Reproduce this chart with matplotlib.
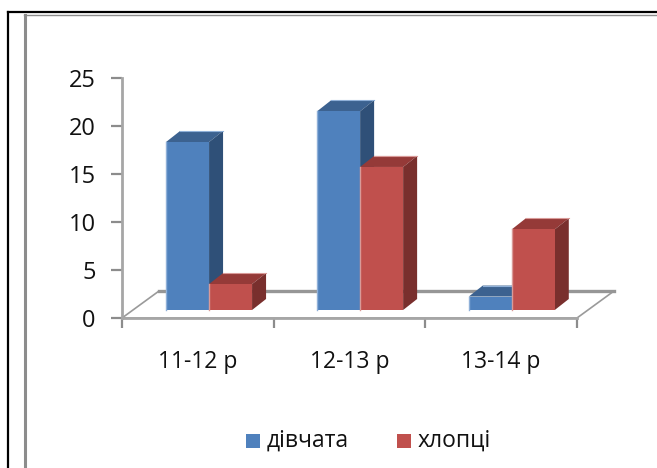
import matplotlib
matplotlib.use("Agg")
import matplotlib.pyplot as plt
from matplotlib.patches import Polygon, Rectangle

categories = ['11-12 р', '12-13 р', '13-14 р']
girls = [17.5, 20.7, 1.4]
boys = [2.7, 14.9, 8.4]
yticks = [0, 5, 10, 15, 20, 25]

W, H = 657, 468
plt.rcParams['font.family'] = ['Open Sans', 'DejaVu Sans']

fig = plt.figure(figsize=(W / 100, H / 100), dpi=100)
bg = fig.add_axes([0, 0, 1, 1])
bg.set_xlim(0, W)
bg.set_ylim(H, 0)
bg.axis('off')

# outer page border and the grey chart frame inside it
bg.plot([8, 8], [468, 12], color='black', lw=1.6)
bg.plot([8, 657], [12, 12], color='black', lw=1.6)
bg.plot([24.5, 24.5], [468, 14.5], color='#8c8c8c', lw=2.2)
bg.plot([24, 657], [14.5, 14.5], color='#8c8c8c', lw=1)

ax = fig.add_axes([122 / W, 1 - 318 / H, 455 / W, 240 / H])
ax.set_xlim(0, 3)
ax.set_ylim(0, 25)
ax.patch.set_alpha(0)
for side in ['top', 'right']:
    ax.spines[side].set_visible(False)
for side in ['left', 'bottom']:
    ax.spines[side].set_color('#a6a6a6')
    ax.spines[side].set_linewidth(2)
ax.set_yticks(yticks)
ax.set_xticks([0, 1, 2, 3])
ax.set_xticklabels([])
ax.tick_params(axis='y', length=8, width=1.6, color='#8c8c8c', labelsize=17, pad=11, labelcolor='#111111')
ax.tick_params(axis='x', length=7, width=1.6, color='#8c8c8c')
for i, cat in enumerate(categories):
    ax.text(i + 0.5, -4.55, cat, ha='center', va='center', fontsize=16.5, color='#111111')

# depth of the fake 3d, in data units
dx = 14 / (455 / 3)
dy = 11 / (240 / 25)
floor_y = 8 / (240 / 25)
floor_dx = 37 / (455 / 3)
floor_dy = 27 / (240 / 25)

floor = Polygon([(0, 0), (floor_dx, floor_dy), (3 + floor_dx, floor_dy), (3, 0)],
                closed=True, facecolor='white', edgecolor='#9a9a9a', lw=1.2, zorder=1, clip_on=False)
ax.add_patch(floor)
ax.plot([floor_dx, 3 + floor_dx], [floor_dy, floor_dy], color='#969696', lw=2.4, zorder=1, clip_on=False)

width = 43 / (455 / 3)
centers = [0.574, 1.57, 2.57]


def draw_bar(x0, value, front, top, side, light):
    y0 = floor_y
    y1 = floor_y + value
    ax.add_patch(Polygon([(x0, y1), (x0 + dx, y1 + dy), (x0 + width + dx, y1 + dy), (x0 + width, y1)],
                         closed=True, facecolor=top, edgecolor='none', zorder=3, clip_on=False))
    ax.add_patch(Polygon([(x0 + width, y0), (x0 + width + dx, y0 + dy), (x0 + width + dx, y1 + dy), (x0 + width, y1)],
                         closed=True, facecolor=side, edgecolor='none', zorder=3, clip_on=False))
    ax.bar(x0, value, width=width, bottom=y0, align='edge', color=front, zorder=4, clip_on=False)
    # pale rim on the left and along the back of the top face
    ax.plot([x0, x0], [y0, y1], color=light, lw=1, zorder=5, clip_on=False)
    ax.plot([x0 + dx, x0 + width + dx], [y1 + dy, y1 + dy], color=light, lw=0.8, zorder=3, clip_on=False)


for i, c in enumerate(centers):
    draw_bar(c - width, girls[i], '#4f81bd', '#3c6290', '#2f5078', '#8fb0d8')
    draw_bar(c, boys[i], '#c0504d', '#953a38', '#792f2d', '#d99a98')

# legend sits at the bottom, drawn by hand so spacing stays tight
bg.add_patch(Rectangle((246, 434), 14, 14, facecolor='#4f81bd', edgecolor='none'))
bg.text(267, 441, 'дівчата', va='center', ha='left', fontsize=16.5, color='#111111')
bg.add_patch(Rectangle((397, 434), 14, 14, facecolor='#c0504d', edgecolor='none'))
bg.text(418, 441, 'хлопці', va='center', ha='left', fontsize=16.5, color='#111111')

fig.savefig('out.png', dpi=100)
